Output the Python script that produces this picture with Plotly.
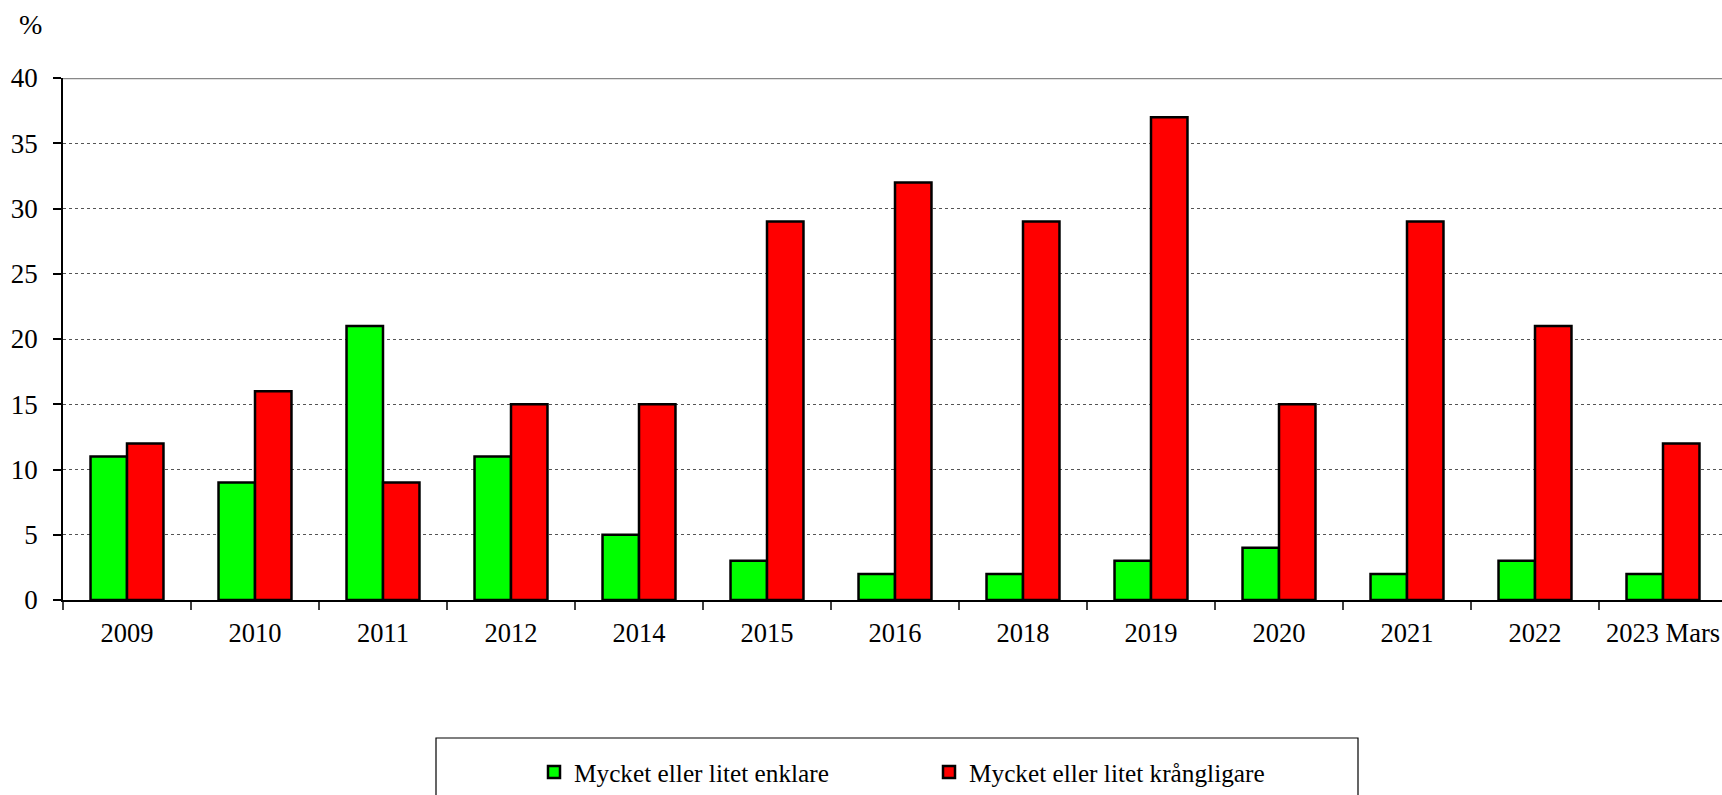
import plotly.graph_objects as go

categories = ["2009", "2010", "2011", "2012", "2014", "2015", "2016", "2018",
              "2019", "2020", "2021", "2022", "2023 Mars"]
enklare = [11, 9, 21, 11, 5, 3, 2, 2, 3, 4, 2, 3, 2]
krangligare = [12, 16, 9, 15, 15, 29, 32, 29, 37, 15, 29, 21, 12]
y_ticks = [0, 5, 10, 15, 20, 25, 30, 35, 40]

FONT = "Liberation Serif, Times New Roman, serif"

fig = go.Figure()
fig.add_trace(go.Bar(x=categories, y=enklare, name="Mycket eller litet enklare",
                     marker=dict(color="#00FF00", line=dict(color="black", width=2.5))))
fig.add_trace(go.Bar(x=categories, y=krangligare, name="Mycket eller litet krångligare",
                     marker=dict(color="#FF0000", line=dict(color="black", width=2.5))))

W, H = 1722, 795
L = 63
T = 78
BOT = 600
B = H - BOT
plot_w = W - L
plot_h = BOT - T


def px(page_x):
    return (page_x - L) / plot_w


def py(page_y):
    return (BOT - page_y) / plot_h


fig.update_layout(
    width=W, height=H,
    margin=dict(l=L, r=0, t=T, b=B),
    paper_bgcolor="white", plot_bgcolor="white",
    barmode="group", bargap=0.43, bargroupgap=0,
    font=dict(family=FONT, size=26, color="black"),
    showlegend=True,
    legend=dict(orientation="h", x=px(534), xanchor="left",
                y=py(772), yanchor="middle",
                entrywidth=350, entrywidthmode="pixels",
                font=dict(family=FONT, size=25.3, color="black"),
                bgcolor="rgba(0,0,0,0)", borderwidth=0),
    xaxis=dict(type="category", range=[-0.5, -0.5 + plot_w / 128.0],
               showline=True, linecolor="black", linewidth=1.5,
               ticks="outside", tickson="boundaries", ticklen=8, tickcolor="#404040",
               tickwidth=1.5, showgrid=False, ticklabelstandoff=8,
               tickfont=dict(family=FONT, size=26.5, color="black")),
    yaxis=dict(range=[0, 40], tickvals=y_ticks, showline=True, linecolor="black",
               linewidth=1.5, ticks="outside", ticklen=8, tickcolor="black", tickwidth=1.5,
               showgrid=True, gridcolor="#555555", gridwidth=1, griddash="dot",
               zeroline=False, ticklabelstandoff=10,
               tickfont=dict(family=FONT, size=27, color="black")),
    shapes=[
        dict(type="line", xref="paper", yref="y", x0=0, x1=1, y0=40, y1=40,
             line=dict(color="#888888", width=2.5)),
        dict(type="rect", xref="paper", yref="paper",
             x0=px(436), x1=px(1358), y0=py(738), y1=py(830),
             line=dict(color="black", width=1.2), fillcolor="rgba(0,0,0,0)"),
    ],
    annotations=[
        dict(text="%", xref="paper", yref="paper", x=px(30), y=py(24),
             xanchor="center", yanchor="middle", showarrow=False,
             font=dict(family=FONT, size=28, color="black")),
    ],
)

fig.write_html("out.html", config={"displayModeBar": False},
               post_script="document.body.style.margin='0';")
